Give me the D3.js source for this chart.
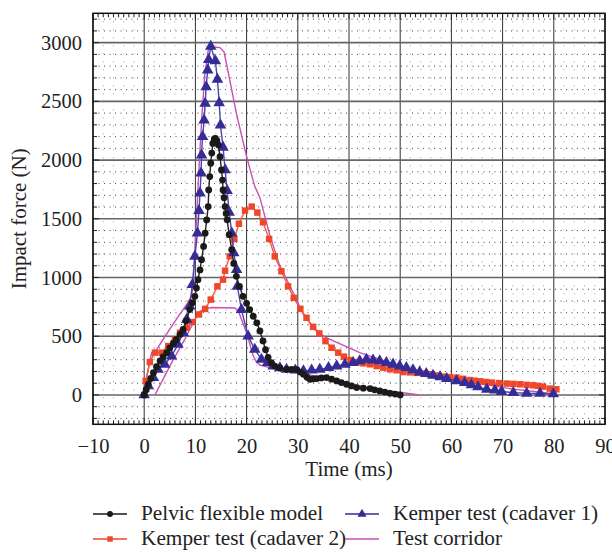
<!DOCTYPE html>
<html><head><meta charset="utf-8">
<script src="https://cdn.jsdelivr.net/npm/d3@7/dist/d3.min.js"></script>
<style>body{margin:0;background:#fff}svg{display:block}text{font-family:"Liberation Serif","Times New Roman",serif;fill:#222}</style>
</head><body><svg id="c" width="612" height="553"></svg>
<script>
// ---- data (time ms, force N) ----
const pelvicModel = [[0,0],[0.4,45],[0.8,90],[1.3,140],[1.8,190],[2.4,240],[3.1,289],[3.7,325],[4.4,360],[5.0,400],[5.7,440],[6.3,473],[7.0,515],[7.6,558],[8.2,630],[8.9,727],[9.4,785],[9.9,840],[10.2,910],[10.5,982],[10.9,1065],[11.2,1152],[11.6,1265],[11.9,1378],[12.2,1490],[12.5,1604],[12.6,1746],[12.8,1860],[13.0,1973],[13.2,2060],[13.4,2142],[13.7,2180],[13.9,2185],[14.2,2165],[14.5,2128],[14.8,2029],[15.1,1916],[15.3,1830],[15.4,1746],[15.6,1680],[15.8,1604],[16.0,1545],[16.2,1491],[16.6,1365],[17.1,1237],[17.5,1120],[18.0,1010],[18.6,925],[19.3,840],[20.0,780],[20.6,727],[21.3,670],[22.0,614],[22.6,545],[23.2,460],[23.7,385],[24.2,320],[24.8,275],[25.5,246],[26.5,230],[27.8,218],[28.8,218],[29.8,216],[30.5,195],[31.1,176],[31.8,150],[32.4,133],[33.0,136],[33.7,139],[34.6,145],[35.6,148],[36.6,134],[37.6,119],[38.5,105],[39.5,91],[40.5,77],[41.5,63],[42.8,58],[44.1,54],[45.0,44],[46.0,34],[47.0,24],[48.0,14],[49.0,7],[50.0,0]];
const cadaver1 = [[0,0],[0.8,76],[1.8,148],[2.7,218],[4.0,261],[5.35,331],[6.6,430],[7.6,530],[8.3,643],[8.9,756],[9.4,940],[9.9,1180],[10.4,1378],[10.7,1570],[10.9,1718],[11.1,1888],[11.2,2043],[11.4,2199],[11.7,2340],[11.9,2482],[12.1,2623],[12.4,2765],[12.6,2856],[13.0,2968],[13.9,2844],[14.3,2686],[14.65,2487],[14.9,2298],[15.4,2109],[15.8,1916],[16.2,1740],[16.6,1555],[17.1,1378],[17.5,1209],[18.05,1067],[18.2,925],[19.0,727],[20.3,501],[21.6,388],[22.9,303],[24.1,275],[25.2,246],[26.5,230],[27.8,218],[29.5,210],[31.1,204],[32.7,210],[34.3,218],[36.0,232],[37.6,246],[39.2,260],[40.8,275],[42.1,290],[43.4,303],[44.7,296],[46.0,289],[47.3,275],[48.6,261],[49.9,246],[51.2,232],[52.5,214],[53.8,195],[55.1,181],[56.4,167],[57.8,153],[59.1,139],[61.0,119],[62.6,105],[63.9,85],[65.2,68],[66.9,48],[68.5,40],[69.8,29],[72.1,20],[74.7,14],[77.3,12],[79.9,8]];
const cadaver2 = [[0,0],[0.3,119],[1.1,280],[2.1,360],[3.4,360],[4.7,416],[6.0,473],[7.0,530],[8.3,572],[9.4,620],[10.7,685],[11.9,733],[13.0,812],[14.3,925],[15.4,982],[15.8,1058],[16.7,1180],[17.6,1328],[18.5,1458],[19.7,1570],[21.0,1604],[22.1,1553],[23.2,1470],[24.4,1328],[25.5,1180],[26.8,1053],[28.1,925],[29.2,827],[30.5,733],[31.7,657],[33.0,580],[34.2,524],[35.4,458],[36.6,402],[37.9,360],[39.0,326],[40.3,297],[41.5,280],[42.8,269],[44.1,261],[45.4,246],[46.7,232],[48.0,218],[49.3,210],[50.6,195],[51.9,192],[53.2,188],[54.5,182],[55.8,176],[57.1,166],[58.4,156],[59.7,152],[61.0,148],[62.3,137],[63.6,127],[64.6,121],[65.6,116],[66.8,110],[67.9,105],[69.3,101],[70.8,97],[72.1,94],[73.4,91],[74.7,86],[76.0,82],[77.0,77],[77.9,71],[79.2,54],[80.5,48]];
const corridorUpper = [[0,0],[0.7,200],[1.45,360],[2.4,385],[5.0,560],[7.0,690],[8.6,790],[9.3,850],[9.6,982],[9.9,1237],[10.2,1491],[10.75,1973],[11.3,2397],[11.85,2737],[12.5,2935],[13.2,2963],[14.8,2958],[15.6,2920],[16.2,2793],[18.0,2397],[20.0,2029],[21.6,1774],[22.6,1680],[24.6,1350],[26.4,1110],[29.1,869],[31.1,685],[33.3,558],[35.4,490],[42.1,360],[50.3,240],[57.8,161],[65,100],[72,50],[80,10]];
const corridorLower = [[2.1,0],[5.7,303],[8.0,480],[9.9,643],[10.9,713],[12.2,735],[13.2,745],[17.7,740],[18.4,713],[20.0,530],[21.3,331],[22.0,275],[22.6,255],[23.9,240],[27.8,218],[29.1,195],[31.7,176],[38.5,110],[45.4,48],[53.8,0]];
const xTicks = [-10,0,10,20,30,40,50,60,70,80,90];
const yTicks = [0,500,1000,1500,2000,2500,3000];
const seriesNames = ["Pelvic flexible model","Kemper test (cadaver 1)","Kemper test (cadaver 2)","Test corridor"];
const xLabel = "Time (ms)", yLabel = "Impact force (N)";

const svg = d3.select("#c");
const L=93, R=605, T=13.3, B=424.3;
const x = d3.scaleLinear().domain([-10,90]).range([L,R]);
const y = d3.scaleLinear().domain([-250,3250]).range([B,T]);
const fmt = d => d<0 ? "\u2212"+Math.abs(d) : String(d);

const g = svg.append("g");
// minor dotted grid
d3.range(-200,3250,100).filter(v=>v%500!==0).forEach(v=>{
  g.append("line").attr("x1",L).attr("x2",R).attr("y1",y(v)).attr("y2",y(v))
   .attr("stroke","#444").attr("stroke-width",1).attr("stroke-dasharray","1,4.5");
});
d3.range(-8,90,2).filter(v=>v%10!==0).forEach(v=>{
  g.append("line").attr("y1",T).attr("y2",B).attr("x1",x(v)).attr("x2",x(v))
   .attr("stroke","#777").attr("stroke-width",0.7).attr("stroke-dasharray","1,7");
});
// major grid
xTicks.forEach(v=>g.append("line").attr("y1",T).attr("y2",B).attr("x1",x(v)).attr("x2",x(v)).attr("stroke","#333").attr("stroke-width",1));
yTicks.forEach(v=>g.append("line").attr("x1",L).attr("x2",R).attr("y1",y(v)).attr("y2",y(v)).attr("stroke","#666").attr("stroke-width",1.6));

// minor ticks inward
const tk = svg.append("g").attr("stroke","#222").attr("stroke-width",1);
d3.range(-10,91,1).forEach(v=>{
  const len = v%10===0?6:4;
  tk.append("line").attr("x1",x(v)).attr("x2",x(v)).attr("y1",B).attr("y2",B-len);
  tk.append("line").attr("x1",x(v)).attr("x2",x(v)).attr("y1",T).attr("y2",T+len);
});
d3.range(-200,3250,100).forEach(v=>{
  const len = v%500===0?6:4;
  tk.append("line").attr("y1",y(v)).attr("y2",y(v)).attr("x1",L).attr("x2",L+len);
  tk.append("line").attr("y1",y(v)).attr("y2",y(v)).attr("x1",R).attr("x2",R-len);
});
svg.append("rect").attr("x",L).attr("y",T).attr("width",R-L).attr("height",B-T).attr("fill","none").attr("stroke","#111").attr("stroke-width",1.5);

// axes labels via d3 axes
const xa = svg.append("g").attr("transform",`translate(0,${B})`).call(d3.axisBottom(x).tickValues(xTicks).tickFormat(fmt).tickSize(0).tickPadding(14));
const ya = svg.append("g").attr("transform",`translate(${L},0)`).call(d3.axisLeft(y).tickValues(yTicks).tickFormat(fmt).tickSize(0).tickPadding(11));
[xa,ya].forEach(a=>{a.select(".domain").remove();a.selectAll("text").attr("font-size",20.5).attr("font-family",'"Liberation Serif",serif').attr("fill","#222");});

svg.append("text").attr("x",(L+R)/2).attr("y",476).attr("text-anchor","middle").attr("font-size",21).text(xLabel);
svg.append("text").attr("transform",`translate(26,${(T+B)/2}) rotate(-90)`).attr("text-anchor","middle").attr("font-size",21).text(yLabel);

const line = d3.line().x(d=>x(d[0])).y(d=>y(d[1]));
const cPink="#c94fb4", cBlue="#352c96", cRed="#f0472a", cBlack="#1a1a1a";
const plot = svg.append("g");
plot.append("path").datum(corridorUpper).attr("d",line).attr("fill","none").attr("stroke",cPink).attr("stroke-width",1.4);
plot.append("path").datum(corridorLower).attr("d",line).attr("fill","none").attr("stroke",cPink).attr("stroke-width",1.4);

const sq = d3.symbol().type(d3.symbolSquare).size(42);
const tri = d3.symbol().type(d3.symbolTriangle).size(58);
function series(data,color,lc,marker){
  plot.append("path").datum(data).attr("d",line).attr("fill","none").attr("stroke",lc).attr("stroke-width",1.4);
  const m = plot.append("g");
  data.forEach(d=>{
    if(marker==="circle") m.append("circle").attr("cx",x(d[0])).attr("cy",y(d[1])).attr("r",3.4).attr("fill",color);
    else m.append("path").attr("d",marker==="square"?sq():tri()).attr("transform",`translate(${x(d[0])},${y(d[1])})`).attr("fill",color);
  });
}
series(cadaver2,cRed,"#f0603a","square");
series(cadaver1,cBlue,"#4a44b0","triangle");
series(pelvicModel,cBlack,"#222","circle");

// legend
const lg = svg.append("g");
const items=[{n:seriesNames[0],c:cBlack,m:"circle",x:93,y:514},{n:seriesNames[1],c:cBlue,m:"triangle",x:345,y:514},{n:seriesNames[2],c:cRed,m:"square",x:93,y:539},{n:seriesNames[3],c:cPink,m:null,x:345,y:539}];
items.forEach(it=>{
  lg.append("line").attr("x1",it.x).attr("x2",it.x+34).attr("y1",it.y).attr("y2",it.y).attr("stroke",it.c).attr("stroke-width",1.4);
  if(it.m==="circle") lg.append("circle").attr("cx",it.x+17).attr("cy",it.y).attr("r",3).attr("fill",it.c);
  else if(it.m) lg.append("path").attr("d",it.m==="square"?d3.symbol().type(d3.symbolSquare).size(30)():d3.symbol().type(d3.symbolTriangle).size(36)()).attr("transform",`translate(${it.x+17},${it.y})`).attr("fill",it.c);
  lg.append("text").attr("x",it.x+48).attr("y",it.y+6).attr("font-size",21.3).text(it.n);
});
</script></body></html>
